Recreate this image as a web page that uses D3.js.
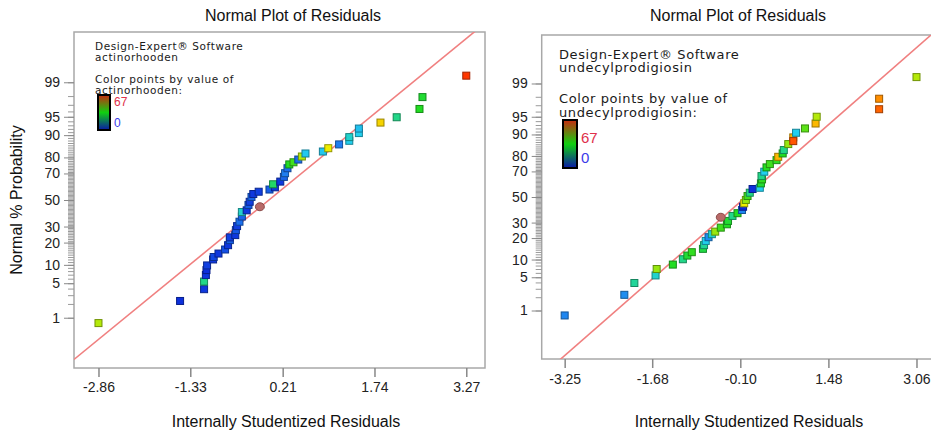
<!DOCTYPE html>
<html>
<head>
<meta charset="utf-8">
<script src="https://cdn.jsdelivr.net/npm/d3@7"></script>
<style>
  body { margin: 0; background: #fff; }
  svg { display: block; font-family: "Liberation Sans", Arial, sans-serif; }
</style>
</head>
<body>
<div id="chart"></div>
<script>
// values: residual, normal % probability, colour value
const yTicks = [1, 5, 10, 20, 30, 50, 70, 80, 90, 95, 99];
const yMinorTicks = d3.range(1, 100);

const actinoXTicks = [-2.86, -1.33, 0.21, 1.74, 3.27];
const actinoResiduals = [-2.86, -1.50, -1.10, -1.10, -1.07, -1.06, -1.05, -0.95, -0.94, -0.86,
  -0.75, -0.70, -0.67, -0.67, -0.58, -0.57, -0.55, -0.51, -0.47, -0.47,
  -0.39, -0.36, -0.34, -0.31, -0.28, -0.19, -0.01, 0.08, 0.05, 0.17,
  0.23, 0.25, 0.29, 0.32, 0.39, 0.47, 0.53, 0.59, 0.88, 0.97,
  1.15, 1.32, 1.32, 1.48, 1.48, 1.84, 2.11, 2.49, 2.54, 3.27];
const actinoPercents = [0.75, 2.3, 3.9, 5.35, 6.9, 8.3, 9.8, 12.0, 13.0, 14.5,
  16.4, 18.6, 21.4, 23.0, 24.4, 27.6, 30.3, 33.4, 37.2, 40.6,
  41.9, 46.1, 48.6, 52.4, 54.7, 56.5, 58.2, 59.9, 62.2, 64.2,
  67.6, 70.2, 73.5, 75.9, 77.2, 78.8, 80.5, 82.1, 83.1, 84.7,
  86.4, 87.9, 89.3, 90.7, 92.1, 93.7, 94.9, 96.4, 97.9, 99.3];
const actinoValues = [44, 2, 3, 28, 3, 2, 4, 3, 5, 3,
  6, 3, 8, 4, 3, 7, 4, 10, 9, 24,
  3, 8, 4, 9, 3, 4, 8, 3, 30, 3,
  9, 12, 10, 34, 36, 10, 44, 21, 21, 48,
  12, 22, 24, 22, 20, 52, 28, 34, 33, 66];
const actinoSelected = [-0.17, 44.7];

const undecXTicks = [-3.25, -1.68, -0.10, 1.48, 3.06];
const undecResiduals = [-3.25, -2.18, -2.00, -1.62, -1.60, -1.31, -1.13, -1.05, -0.97, -0.77,
  -0.75, -0.72, -0.67, -0.61, -0.55, -0.45, -0.34, -0.32, -0.24, -0.15,
  -0.07, -0.05, -0.03, 0.00, 0.03, 0.07, 0.12, 0.25, 0.27, 0.29,
  0.28, 0.33, 0.37, 0.43, 0.55, 0.58, 0.66, 0.68, 0.76, 0.85,
  0.85, 0.90, 1.06, 1.25, 1.27, 2.39, 2.39, 3.06];
const undecPercents = [0.76, 2.25, 3.9, 5.4, 7.0, 8.3, 10.1, 11.5, 12.9, 14.4,
  16.2, 18.4, 20.5, 22.3, 23.9, 26.5, 28.8, 31.2, 34.9, 37.0,
  39.5, 42.1, 44.9, 47.6, 50.8, 53.5, 56.5, 57.5, 61.0, 64.1,
  66.6, 69.8, 72.8, 75.0, 77.5, 79.5, 81.4, 83.2, 86.1, 88.9,
  87.4, 90.6, 92.0, 93.4, 95.0, 96.4, 97.8, 99.3];
const undecValues = [13, 14, 27, 24, 42, 34, 28, 33, 35, 32,
  27, 22, 14, 24, 42, 36, 34, 33, 28, 34,
  13, 1, 48, 42, 36, 28, 2, 22, 33, 35,
  28, 22, 34, 36, 35, 56, 34, 28, 42, 56,
  64, 22, 38, 56, 44, 63, 60, 44];
const undecSelected = [-0.45, 33.9];

const color = d3.scaleLinear()
    .domain([0, 12, 22, 34, 48, 58, 67])
    .range(["#0a20d8", "#1e7ef0", "#22d0ee", "#22dd22", "#eeee00", "#ffaa00", "#ff2a00"]);

function probit(p) {
  const a = [-39.69683028665376, 220.9460984245205, -275.9285104469687, 138.3577518672690, -30.66479806614716, 2.506628277459239];
  const b = [-54.47609879822406, 161.5858368580409, -155.6989798598866, 66.80131188771972, -13.28068155288572];
  const c = [-0.007784894002430293, -0.3223964580411365, -2.400758277161838, -2.549732539343734, 4.374664141464968, 2.938163982698783];
  const d = [0.007784695709041462, 0.3224671290700398, 2.445134137142996, 3.754408661907416];
  const pl = 0.02425;
  if (p < pl || p > 1 - pl) {
    const q = Math.sqrt(-2 * Math.log(p < pl ? p : 1 - p));
    const v = (((((c[0]*q+c[1])*q+c[2])*q+c[3])*q+c[4])*q+c[5]) / ((((d[0]*q+d[1])*q+d[2])*q+d[3])*q+1);
    return p < pl ? v : -v;
  }
  const q = p - 0.5, r = q * q;
  return (((((a[0]*r+a[1])*r+a[2])*r+a[3])*r+a[4])*r+a[5])*q / (((((b[0]*r+b[1])*r+b[2])*r+b[3])*r+b[4])*r+1);
}

// probability scale usable by d3 axes
function probScale(zScale) {
  const s = p => zScale(probit(p / 100));
  s.range = () => zScale.range();
  s.domain = () => [0.01, 99.99];
  s.copy = () => probScale(zScale.copy());
  return s;
}

const width = 931, height = 434;
const svg = d3.select("#chart").append("svg")
    .attr("width", width)
    .attr("height", height)
    .attr("viewBox", [0, 0, width, height]);

svg.append("text")
    .attr("transform", "translate(22,200) rotate(-90)")
    .attr("text-anchor", "middle")
    .attr("font-size", 16)
    .attr("fill", "#111")
    .text("Normal % Probability");

function drawPanel(o) {
  const x = d3.scaleLinear().domain(o.xDomain).range([o.left, o.right]);
  const z = d3.scaleLinear().domain([-3.32, 3.32]).range([o.bottom, o.top]);
  const y = probScale(z);
  const g = svg.append("g");
  const clipId = "clip" + o.id;

  g.append("clipPath").attr("id", clipId)
    .append("rect")
      .attr("x", o.left).attr("y", o.top)
      .attr("width", o.right - o.left).attr("height", o.bottom - o.top);

  g.append("text")
      .attr("x", o.titleX).attr("y", 21)
      .attr("text-anchor", "middle")
      .attr("font-size", 16)
      .attr("fill", "#111")
      .text("Normal Plot of Residuals");

  g.append("rect")
      .attr("x", o.left).attr("y", o.top)
      .attr("width", o.right - o.left).attr("height", o.bottom - o.top)
      .attr("fill", "none")
      .attr("stroke", "#a8a8a8")
      .attr("stroke-width", 1.5);

  // minor y ticks
  g.append("g")
      .attr("transform", `translate(${o.left},0)`)
      .call(d3.axisLeft(y).tickValues(yMinorTicks).tickSize(6).tickFormat(""))
      .call(a => a.select(".domain").remove())
      .call(a => a.selectAll(".tick line").attr("stroke", "#9a9a9a"));

  g.append("g")
      .attr("transform", `translate(${o.left},0)`)
      .call(d3.axisLeft(y).tickValues(yTicks).tickSize(10).tickPadding(4).tickFormat(d3.format("d")))
      .call(a => a.select(".domain").remove())
      .call(a => a.selectAll(".tick line").attr("stroke", "#888"))
      .call(a => a.selectAll(".tick text")
          .attr("font-family", "Liberation Sans, Arial, sans-serif")
          .attr("font-size", 14).attr("fill", "#222"));

  g.append("g")
      .attr("transform", `translate(0,${o.bottom})`)
      .call(d3.axisBottom(x).tickValues(o.xTicks).tickSize(9).tickPadding(o.xPad).tickFormat(d => d.toFixed(2)))
      .call(a => a.select(".domain").remove())
      .call(a => a.selectAll(".tick line").attr("stroke", "#888").attr("stroke-width", 1.5))
      .call(a => a.selectAll(".tick text")
          .attr("font-family", "Liberation Sans, Arial, sans-serif")
          .attr("font-size", 14).attr("fill", "#222"));

  g.append("text")
      .attr("x", o.xTitleX).attr("y", 427)
      .attr("text-anchor", "middle")
      .attr("font-size", 16)
      .attr("fill", "#111")
      .text("Internally Studentized Residuals");

  // fitted normal line
  const lx = x.domain();
  g.append("line")
      .attr("clip-path", `url(#${clipId})`)
      .attr("x1", x(lx[0])).attr("y1", z(o.slope * (lx[0] + o.shift)))
      .attr("x2", x(lx[1])).attr("y2", z(o.slope * (lx[1] + o.shift)))
      .attr("stroke", "#f08080")
      .attr("stroke-width", 1.6);

  const pts = o.residuals.map((r, i) => ({r, p: o.percents[i], v: o.values[i]}));

  g.append("g")
      .selectAll("rect")
      .data(pts)
      .join("rect")
        .attr("x", d => x(d.r) - 3.5)
        .attr("y", d => y(d.p) - 3.5)
        .attr("width", 7)
        .attr("height", 7)
        .attr("fill", d => color(d.v))
        .attr("stroke", d => d3.color(color(d.v)).darker(1.3))
        .attr("stroke-width", 1);

  g.append("ellipse")
      .attr("cx", x(o.selected[0]))
      .attr("cy", y(o.selected[1]))
      .attr("rx", 4.5).attr("ry", 4)
      .attr("fill", "#b86a68")
      .attr("stroke", "#8a4a48");

  // legend
  const lg = g.append("g")
      .attr("font-family", "DejaVu Sans, Verdana, sans-serif")
      .attr("font-size", o.legendSize)
      .attr("letter-spacing", o.legendSpacing)
      .attr("fill", "#1a1a1a");
  o.legendLines.forEach((t, i) => {
    lg.append("text").attr("x", o.legendX).attr("y", o.legendY[i]).text(t);
  });

  const gradId = "grad" + o.id;
  const grad = g.append("defs").append("linearGradient")
      .attr("id", gradId)
      .attr("x1", 0).attr("y1", 0).attr("x2", 0).attr("y2", 1);
  grad.append("stop").attr("offset", "0%").attr("stop-color", "#c82a10");
  grad.append("stop").attr("offset", "50%").attr("stop-color", "#10d010");
  grad.append("stop").attr("offset", "100%").attr("stop-color", "#0a18a8");

  g.append("rect")
      .attr("x", o.bar[0]).attr("y", o.bar[1])
      .attr("width", o.bar[2]).attr("height", o.bar[3])
      .attr("fill", `url(#${gradId})`)
      .attr("stroke", "#000")
      .attr("stroke-width", 2);

  g.append("text")
      .attr("x", o.bar[0] + o.bar[2] + 4).attr("y", o.bar[1] + o.barLabelDy[0])
      .attr("font-size", o.barLabelSize)
      .attr("fill", "#e0304a")
      .text("67");
  g.append("text")
      .attr("x", o.bar[0] + o.bar[2] + 4).attr("y", o.bar[1] + o.barLabelDy[1])
      .attr("font-size", o.barLabelSize)
      .attr("fill", "#3a3ae8")
      .text("0");
}

drawPanel({
  id: "a", left: 74, right: 485, top: 32, bottom: 368,
  xDomain: [-3.268, 3.582], xTicks: actinoXTicks, xPad: 5,
  titleX: 293, xTitleX: 286,
  slope: 0.97, shift: 0.02,
  residuals: actinoResiduals, percents: actinoPercents, values: actinoValues,
  selected: actinoSelected,
  legendSize: 10.5, legendSpacing: 0.6, legendX: 95,
  legendY: [50, 60.5, 83, 93.5],
  legendLines: ["Design-Expert\u00ae Software", "actinorhooden", "Color points by value of", "actinorhooden:"],
  bar: [98, 95, 12, 35], barLabelDy: [11, 32], barLabelSize: 12
});

drawPanel({
  id: "b", left: 541.7, right: 935, top: 35, bottom: 359,
  xDomain: [-3.662, 3.392], xTicks: undecXTicks, xPad: 6,
  titleX: 738, xTitleX: 749,
  slope: 1, shift: 0,
  residuals: undecResiduals, percents: undecPercents, values: undecValues,
  selected: undecSelected,
  legendSize: 13, legendSpacing: 0.6, legendX: 559,
  legendY: [58.5, 72, 103, 116.5],
  legendLines: ["Design-Expert\u00ae Software", "undecylprodigiosin", "Color points by value of", "undecylprodigiosin:"],
  bar: [563, 120, 14, 48], barLabelDy: [23, 43], barLabelSize: 15
});
</script>
</body>
</html>
